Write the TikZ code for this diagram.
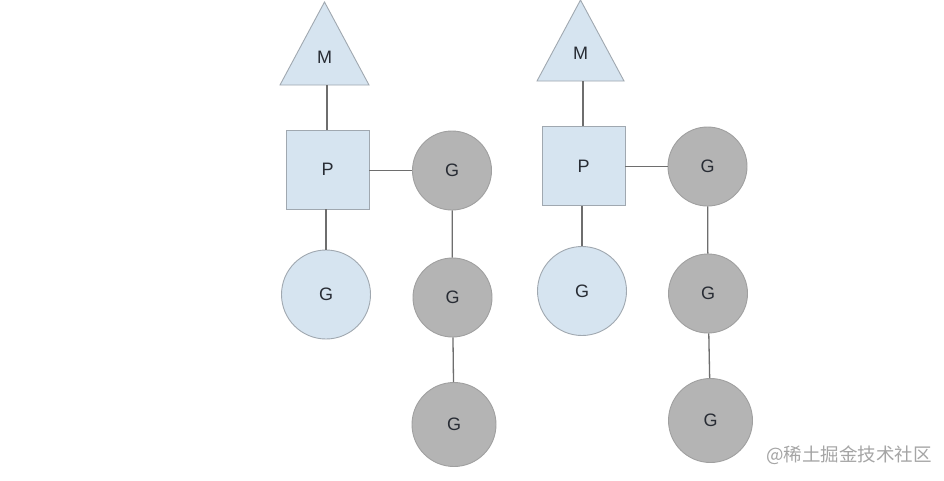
\documentclass[tikz,border=0pt]{standalone}
\usepackage{fontspec}
\setmainfont{Liberation Sans}
\newfontfamily\cjk{Noto Sans CJK SC}
\definecolor{lbfill}{RGB}{214,228,240}
\definecolor{lbdraw}{RGB}{160,168,176}
\definecolor{gyfill}{RGB}{180,180,180}
\definecolor{gydraw}{RGB}{160,160,160}
\definecolor{lnk}{RGB}{110,110,110}
\definecolor{txt}{RGB}{40,44,52}
\definecolor{wm}{RGB}{165,165,165}
\begin{document}
\begin{tikzpicture}[x=1pt,y=-1pt,
  tri/.style={fill=lbfill, draw=lbdraw, line width=0.9pt},
  pbox/.style={rectangle, fill=lbfill, draw=lbdraw, line width=0.9pt, minimum width=83pt, minimum height=79pt, inner sep=0pt, text=txt, font=\fontsize{18}{21}\selectfont},
  gblue/.style={circle, fill=lbfill, draw=lbdraw, line width=0.9pt, minimum size=89pt, inner sep=0pt, text=txt, font=\fontsize{18}{21}\selectfont},
  ggray/.style={circle, fill=gyfill, draw=gydraw, line width=0.9pt, inner sep=0pt, text=txt, font=\fontsize{18}{21}\selectfont},
  lbl/.style={text=txt, font=\fontsize{18}{21}\selectfont, inner sep=0pt},
  link/.style={draw=lnk, line width=1.3pt}]
\useasboundingbox (0,0) rectangle (944,480);
\fill[white] (0,0) rectangle (944,480);

% ---------- left group ----------
\filldraw[tri] (324.5,2) -- (369,85) -- (280,85) -- cycle;
\node[lbl] (M1) at (324.5,57) {M};
\coordinate (M1b) at (327,85);
\node[pbox] (P1) at (327.5,169.5) {P};
\node[ggray, minimum size=79pt] (G1a) at (452,170.5) {G};
\node[gblue] (B1) at (326,294.5) {G};
\node[ggray, minimum size=79pt] (G1b) at (452.5,297.5) {G};
\node[ggray, minimum size=84pt] (G1c) at (454,424.5) {G};

\draw[link] (M1b) -- (M1b |- P1.north);
\draw[link] (P1.east |- G1a) -- (G1a.west);
\draw[link] (B1.north |- P1.south) -- (B1.north);
\draw[link] (G1a) -- (G1b);
\draw[link] (G1b) -- (G1c);

% ---------- right group ----------
\filldraw[tri] (580.5,0) -- (624,81) -- (537,81) -- cycle;
\node[lbl] (M2) at (580.5,53) {M};
\coordinate (M2b) at (583,81);
\node[pbox] (P2) at (583.5,166) {P};
\node[ggray, minimum size=79pt] (G2a) at (707.5,166.5) {G};
\node[gblue] (B2) at (582,291) {G};
\node[ggray, minimum size=79pt] (G2b) at (708,293.5) {G};
\node[ggray, minimum size=84pt] (G2c) at (710.5,420.5) {G};

\draw[link] (M2b) -- (M2b |- P2.north);
\draw[link] (P2.east |- G2a) -- (G2a.west);
\draw[link] (B2.north |- P2.south) -- (B2.north);
\draw[link] (G2a) -- (G2b);
\draw[link] (G2b) -- (G2c);

% ---------- watermark ----------
\node[anchor=west, inner sep=0pt, text=wm, font=\cjk\fontsize{18.5}{22}\selectfont] (wmk) at (766,455) {@稀土掘金技术社区};
\end{tikzpicture}
\end{document}
